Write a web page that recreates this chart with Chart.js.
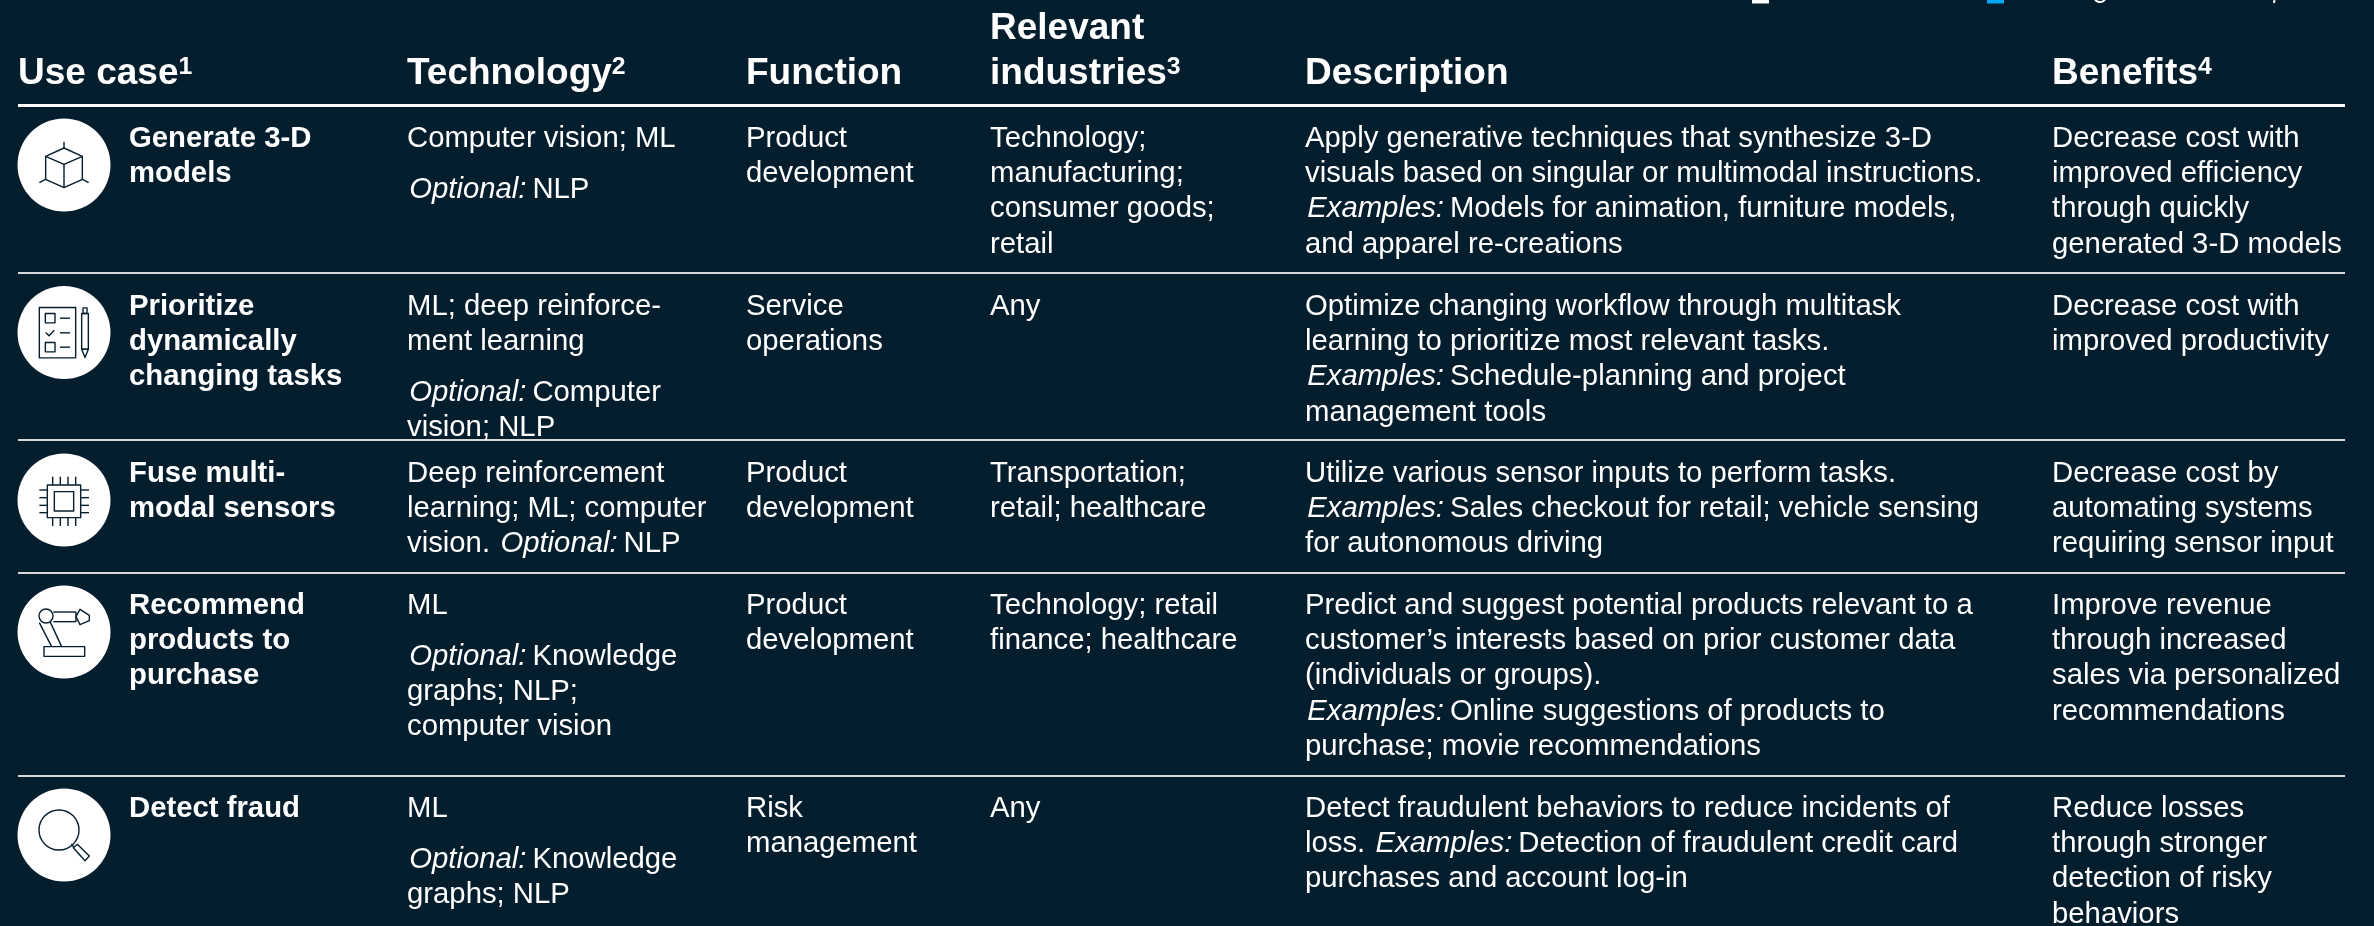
<!DOCTYPE html>
<html><head><meta charset="utf-8">
<script src="https://cdn.jsdelivr.net/npm/chart.js@4"></script>
<style>html,body{margin:0;padding:0;background:#041e2e;overflow:hidden}canvas{display:block}</style>
</head><body><canvas id="c" width="2374" height="926"></canvas>
<script>
// ---- table content ----
const headers = [["Use case^1"],["Technology^2"],["Function"],["Relevant","industries^3"],["Description"],["Benefits^4"]];
const useCases = [["Generate 3-D","models"],["Prioritize","dynamically","changing tasks"],["Fuse multi-","modal sensors"],["Recommend","products to","purchase"],["Detect fraud"]];
const technologies = [["Computer vision; ML"],["ML; deep reinforce-","ment learning"],["Deep reinforcement","learning; ML; computer","vision. _Optional:_ NLP"],["ML"],["ML"]];
const technologiesOptional = [["_Optional:_ NLP"],["_Optional:_ Computer","vision; NLP"],[],["_Optional:_ Knowledge","graphs; NLP;","computer vision"],["_Optional:_ Knowledge","graphs; NLP"]];
const functions = [["Product","development"],["Service","operations"],["Product","development"],["Product","development"],["Risk","management"]];
const industries = [["Technology;","manufacturing;","consumer goods;","retail"],["Any"],["Transportation;","retail; healthcare"],["Technology; retail","finance; healthcare"],["Any"]];
const descriptions = [
 ["Apply generative techniques that synthesize 3-D","visuals based on singular or multimodal instructions.","_Examples:_ Models for animation, furniture models,","and apparel re-creations"],
 ["Optimize changing workflow through multitask","learning to prioritize most relevant tasks.","_Examples:_ Schedule-planning and project","management tools"],
 ["Utilize various sensor inputs to perform tasks.","_Examples:_ Sales checkout for retail; vehicle sensing","for autonomous driving"],
 ["Predict and suggest potential products relevant to a","customer’s interests based on prior customer data","(individuals or groups).","_Examples:_ Online suggestions of products to","purchase; movie recommendations"],
 ["Detect fraudulent behaviors to reduce incidents of","loss. _Examples:_ Detection of fraudulent credit card","purchases and account log-in"]];
const benefits = [["Decrease cost with","improved efficiency","through quickly","generated 3-D models"],["Decrease cost with","improved productivity"],["Decrease cost by","automating systems","requiring sensor input"],["Improve revenue","through increased","sales via personalized","recommendations"],["Reduce losses","through stronger","detection of risky","behaviors"]];
const iconNames = ["cube","checklist","chip","robot","magnifier"];

// ---- layout (kept apart from the content) ----
const W=2374,H=926;
const colX=[18,407,746,990,1305,2052], nameX=129;
const ruleLeft=18, ruleRight=2345;
const headerRuleY=105.5, rowRuleY=[273,440,573,776];
const rowTop=[147,315,482,614,817];
const iconCx=64, iconCy=[165,332.5,500,632,835], iconR=46.5;
const swatchX=[1760.5,1995.5], swatchY=-5, swatchR=12;
const bodyPx=29.3, headPx=37, step=35.2, paraGap=15.5, headStep=44.5, headBase=83.5, italicShift=2.2;
const BG="#041e2e", INK="#ffffff", RULE="#d5d9dc", ACCENT="#00a9f4";
const FONT='"Liberation Sans", Arial, sans-serif';

function lineSet(y){return [{x:ruleLeft,y},{x:ruleRight,y}];}
const ruleSets=[
  {type:'line',data:lineSet(headerRuleY),borderColor:INK,borderWidth:3,pointRadius:0,clip:false},
  ...rowRuleY.map(y=>({type:'line',data:lineSet(y),borderColor:RULE,borderWidth:2,pointRadius:0,clip:false}))
];

function drawRich(ctx,x,y,str,px,weight){
  const parts=str.split(/(_[^_]+_|\^\d)/).filter(Boolean);
  let cx=x;
  for(const p of parts){
    let txt=p,style='',size=px,dy=0,shift=0;
    if(p[0]==='_'&&p.endsWith('_')){txt=p.slice(1,-1);style='italic ';shift=italicShift;}
    else if(p[0]==='^'){txt=p.slice(1);size=px*0.67;dy=-px*0.25;}
    ctx.font=`${style}${weight} ${size}px ${FONT}`;
    ctx.fillText(txt,cx+shift,y+dy);
    cx+=ctx.measureText(txt).width;
  }
}

// icon outlines are given in a 3× local grid centred on the disc
const icons={
 cube(g){g.poly([[0,-51],[55,-26],[55,43],[0,68],[-55,43],[-55,-26]],true);
   g.line(0,-51,0,-70);g.line(0,-2,0,68);g.line(0,-2,55,-26);g.line(0,-2,-55,-26);
   g.line(55,43,74,53);g.line(-55,43,-74,53);},
 checklist(g){g.rect(-74,-75,109,151);g.rect(-56,-57,29,28);g.rect(-56,30,29,28);
   g.line(-12,-43,18,-43);g.line(-12,1,18,1);g.line(-12,44,18,44);
   g.poly([[-55,0],[-45,10],[-29,-7]],false);
   g.rect(53,-57,20,107);g.rect(57,-74,12,17);g.poly([[53,50],[63,75],[73,50]],true);},
 chip(g){g.rect(-50,-45,100,98);g.rect(-29,-25,58,58);
   for(const x of [-34,-11,12,35]){g.line(x,-70,x,-45);g.line(x,53,x,78);}
   for(const y of [-30,-7,16,38]){g.line(-74,y,-50,y);g.line(50,y,75,y);}},
 robot(g){g.circle(-54,-48,21);g.line(-32,-60,36,-60);g.line(-32,-31,36,-31);g.line(36,-60,36,-31);
   g.poly([[36,-46],[48,-68],[76,-50],[76,-34],[48,-22]],true);
   g.line(-74,-28,-37,44);g.line(-42,-31,-7,44);g.rect(-60,44,122,29);},
 magnifier(g){g.circle(-15,-15,60);g.line(22,27,30,37);
   g.poly([[28,38],[40,28],[76,63],[63,77]],true);}
};

const tablePlugin={
 id:'table',
 afterDatasetsDraw(chart){
  const {ctx,scales:{x:sx,y:sy}}=chart;
  const X=v=>sx.getPixelForValue(v),Y=v=>sy.getPixelForValue(v);
  ctx.save();
  iconNames.forEach((n,i)=>{
   const ox=X(iconCx),oy=Y(iconCy[i]),k=1/3;
   const g={
    line(a,b,c,d){ctx.beginPath();ctx.moveTo(ox+a*k,oy+b*k);ctx.lineTo(ox+c*k,oy+d*k);ctx.stroke();},
    rect(a,b,w,h){ctx.strokeRect(ox+a*k,oy+b*k,w*k,h*k);},
    circle(a,b,r){ctx.beginPath();ctx.arc(ox+a*k,oy+b*k,r*k,0,7);ctx.stroke();},
    poly(p,close){ctx.beginPath();p.forEach((q,j)=>j?ctx.lineTo(ox+q[0]*k,oy+q[1]*k):ctx.moveTo(ox+q[0]*k,oy+q[1]*k));if(close)ctx.closePath();ctx.stroke();}
   };
   ctx.strokeStyle=BG;ctx.lineWidth=1.4;ctx.lineJoin='round';
   icons[n](g);
  });
  ctx.fillStyle=INK;ctx.textBaseline='alphabetic';ctx.textAlign='left';
  headers.forEach((h,c)=>{
    h.forEach((t,j)=>drawRich(ctx,X(colX[c]),Y(headBase-(h.length-1-j)*headStep),t,headPx,'bold'));
  });
  const put=(cell,x,y,w)=>{cell.forEach((t,j)=>drawRich(ctx,x,y+j*step,t,bodyPx,w));};
  rowTop.forEach((y0,r)=>{
    put(useCases[r],X(nameX),Y(y0),'bold');
    put(technologies[r],X(colX[1]),Y(y0),'normal');
    put(technologiesOptional[r],X(colX[1]),Y(y0+technologies[r].length*step+paraGap),'normal');
    put(functions[r],X(colX[2]),Y(y0),'normal');
    put(industries[r],X(colX[3]),Y(y0),'normal');
    put(descriptions[r],X(colX[4]),Y(y0),'normal');
    put(benefits[r],X(colX[5]),Y(y0),'normal');
  });
  ctx.restore();
 }
};

new Chart(document.getElementById('c'),{
 type:'scatter',
 data:{datasets:[
  ...ruleSets,
  {type:'scatter',data:iconCy.map(y=>({x:iconCx,y})),pointRadius:iconR,pointHoverRadius:iconR,backgroundColor:INK,borderWidth:0,clip:false},
  {type:'scatter',data:swatchX.map(x=>({x,y:swatchY})),pointStyle:'rect',pointRadius:swatchR,backgroundColor:[INK,ACCENT],borderWidth:0,clip:false}
 ]},
 options:{
  responsive:false,animation:false,devicePixelRatio:1,
  layout:{padding:0,autoPadding:false},
  plugins:{legend:{display:false},tooltip:{enabled:false},title:{display:false}},
  scales:{
   x:{type:'linear',min:0,max:W,display:false},
   y:{type:'linear',min:0,max:H,reverse:true,display:false}
  }
 },
 plugins:[tablePlugin,{id:'bg',beforeDraw(c){const t=c.ctx;t.save();t.fillStyle=BG;t.fillRect(0,0,W,H);
   // descender and comma of the legend text cropped off above the table
   t.strokeStyle=INK;t.lineWidth=2;t.beginPath();t.arc(2100,-4,6,0.3,Math.PI-0.3);t.stroke();
   t.beginPath();t.moveTo(2274.5,0);t.lineTo(2274,3);t.stroke();t.restore();}}]
});
</script></body></html>
